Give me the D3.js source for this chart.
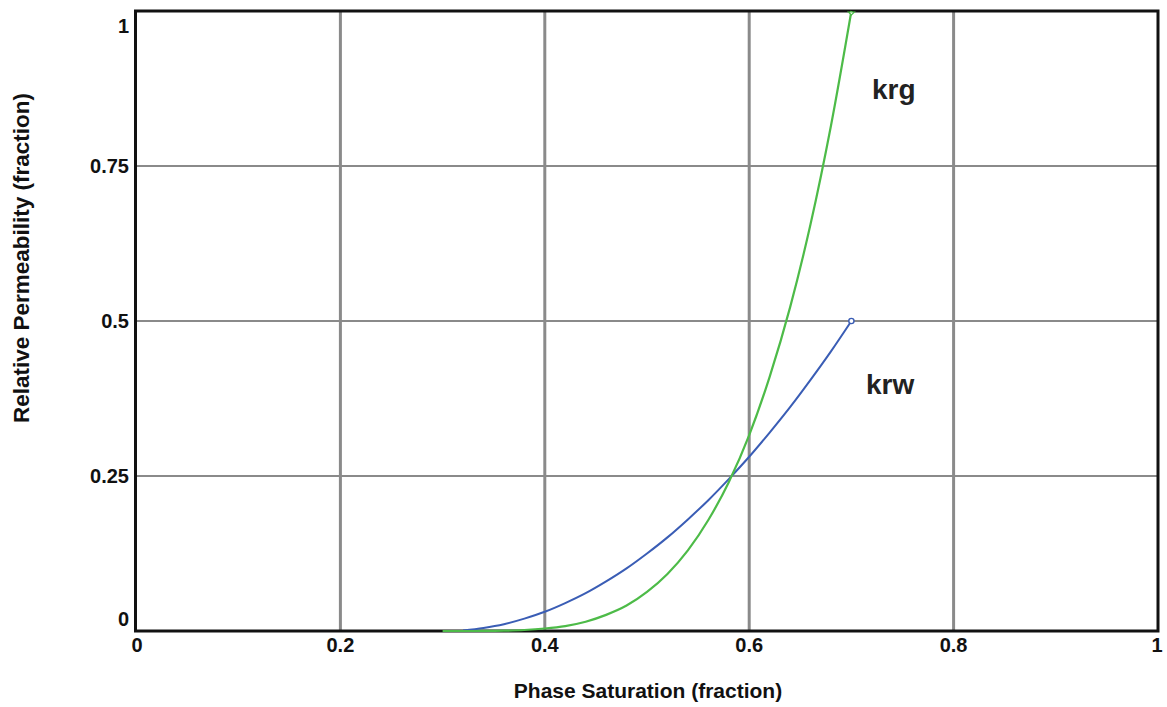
<!DOCTYPE html>
<html>
<head>
<meta charset="utf-8">
<script src="https://cdn.jsdelivr.net/npm/d3@7"></script>
<style>
  html, body { margin: 0; padding: 0; background: #fff; }
  svg { display: block; }
  text { font-family: "Liberation Sans", Arial, sans-serif; font-weight: bold; }
</style>
</head>
<body>
<svg id="chart" width="1167" height="707"></svg>
<script>
// Phase saturation samples (fraction)
const satGas = [0.30, 0.32, 0.34, 0.36, 0.38, 0.40, 0.42, 0.44, 0.46, 0.48, 0.50,
                0.52, 0.54, 0.56, 0.58, 0.60, 0.62, 0.64, 0.66, 0.68, 0.70];
// Gas relative permeability
const krgValues = [0, 0, 0.0001, 0.0005, 0.0016, 0.004, 0.008, 0.015, 0.026, 0.041, 0.063,
                   0.092, 0.130, 0.179, 0.240, 0.316, 0.410, 0.522, 0.656, 0.815, 1.0];

const satWater = [0.32, 0.34, 0.36, 0.38, 0.40, 0.42, 0.44, 0.46, 0.48, 0.50,
                  0.52, 0.54, 0.56, 0.58, 0.60, 0.62, 0.64, 0.66, 0.68, 0.70];
// Water relative permeability
const krwValues = [0.001, 0.005, 0.011, 0.020, 0.031, 0.045, 0.061, 0.080, 0.101, 0.125,
                   0.151, 0.180, 0.211, 0.245, 0.281, 0.320, 0.361, 0.405, 0.451, 0.5];

const xTicks = [0, 0.2, 0.4, 0.6, 0.8, 1];
const xTickLabels = ["0", "0.2", "0.4", "0.6", "0.8", "1"];
const yTicks = [0, 0.25, 0.5, 0.75, 1];
const yTickLabels = ["0", "0.25", "0.5", "0.75", "1"];

const svg = d3.select("#chart");
const plotLeft = 136, plotRight = 1158, plotTop = 11, plotBottom = 631;

const x = d3.scaleLinear().domain([0, 1]).range([plotLeft, plotRight]);
const y = d3.scaleLinear().domain([0, 1]).range([plotBottom, plotTop]);

// Grid lines
svg.append("g").selectAll("line")
  .data(xTicks.filter(d => d > 0 && d < 1))
  .join("line")
  .attr("x1", d => x(d)).attr("x2", d => x(d))
  .attr("y1", plotTop).attr("y2", plotBottom)
  .attr("stroke", "#8a8a8a").attr("stroke-width", 3);

svg.append("g").selectAll("line")
  .data(yTicks.filter(d => d > 0 && d < 1))
  .join("line")
  .attr("x1", plotLeft).attr("x2", plotRight)
  .attr("y1", d => y(d)).attr("y2", d => y(d))
  .attr("stroke", "#8a8a8a").attr("stroke-width", 2);

// Plot frame
svg.append("rect")
  .attr("x", plotLeft - 0.5).attr("y", plotTop)
  .attr("width", plotRight - plotLeft + 0.5).attr("height", plotBottom - plotTop)
  .attr("fill", "none").attr("stroke", "#111").attr("stroke-width", 3);

// Curves
const line = d3.line().x(d => x(d[0])).y(d => y(d[1])).curve(d3.curveMonotoneX);

const waterPts = satWater.map((s, i) => [s, krwValues[i]]);
const gasPts = satGas.map((s, i) => [s, krgValues[i]]);

svg.append("path").datum(waterPts)
  .attr("d", line).attr("fill", "none")
  .attr("stroke", "#3a5db5").attr("stroke-width", 2);

svg.append("path").datum(gasPts)
  .attr("d", line).attr("fill", "none")
  .attr("stroke", "#4dbb48").attr("stroke-width", 2.2);

// End markers
const wEnd = waterPts[waterPts.length - 1];
svg.append("circle")
  .attr("cx", x(wEnd[0])).attr("cy", y(wEnd[1])).attr("r", 2.6)
  .attr("fill", "#fff").attr("stroke", "#3a5db5").attr("stroke-width", 1.4);
const gEnd = gasPts[gasPts.length - 1];
svg.append("path")
  .attr("d", `M${x(gEnd[0]) - 3},${y(gEnd[1]) + 1} L${x(gEnd[0]) + 3},${y(gEnd[1]) + 1} L${x(gEnd[0])},${y(gEnd[1]) + 4} Z`)
  .attr("fill", "#fff").attr("stroke", "#4dbb48").attr("stroke-width", 1.2);

// X tick labels
svg.append("g").selectAll("text")
  .data(xTicks)
  .join("text")
  .attr("x", (d, i) => i === 0 ? x(d) + 1 : (d === 1 ? x(d) - 1 : x(d)))
  .attr("y", 652)
  .attr("text-anchor", "middle")
  .attr("font-size", 20)
  .attr("fill", "#111")
  .text((d, i) => xTickLabels[i]);

// Y tick labels (end labels kept inside the frame)
svg.append("g").selectAll("text")
  .data(yTicks)
  .join("text")
  .attr("x", 129)
  .attr("y", d => d === 1 ? 33 : (d === 0 ? 626 : y(d) + 7))
  .attr("text-anchor", "end")
  .attr("font-size", 20)
  .attr("fill", "#111")
  .text((d, i) => yTickLabels[i]);

// Axis titles
svg.append("text")
  .attr("x", 648).attr("y", 698)
  .attr("text-anchor", "middle")
  .attr("font-size", 21)
  .attr("fill", "#111")
  .text("Phase Saturation (fraction)");

svg.append("text")
  .attr("transform", "translate(29,258) rotate(-90)")
  .attr("text-anchor", "middle")
  .attr("font-size", 22.5)
  .attr("fill", "#111")
  .text("Relative Permeability (fraction)");

// Curve labels
svg.append("text")
  .attr("x", 872).attr("y", 99)
  .attr("font-size", 28)
  .attr("fill", "#222")
  .text("krg");

svg.append("text")
  .attr("x", 866).attr("y", 394)
  .attr("font-size", 28)
  .attr("fill", "#222")
  .text("krw");
</script>
</body>
</html>
